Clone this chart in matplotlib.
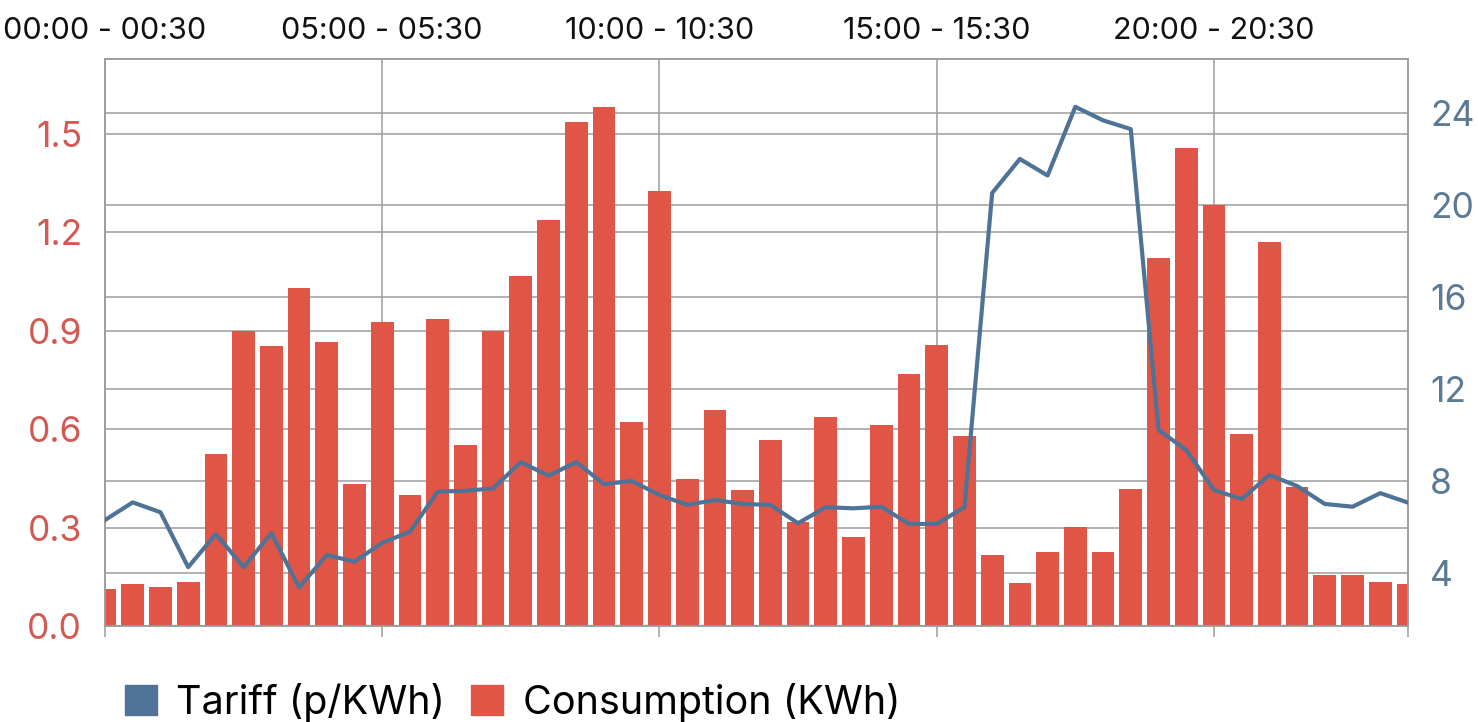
import matplotlib.pyplot as plt
from matplotlib.patches import Patch
from matplotlib.transforms import blended_transform_factory

# half-hour consumption (KWh), 48 slots
consumption = [0.112, 0.128, 0.120, 0.133, 0.524, 0.899, 0.852, 1.030, 0.867, 0.433,
               0.928, 0.400, 0.935, 0.552, 0.899, 1.068, 1.238, 1.537, 1.582, 0.622,
               1.327, 0.448, 0.659, 0.415, 0.567, 0.318, 0.638, 0.270, 0.613, 0.767,
               0.857, 0.580, 0.216, 0.130, 0.227, 0.303, 0.227, 0.418, 1.121, 1.456,
               1.284, 0.585, 1.169, 0.425, 0.155, 0.155, 0.133, 0.128]
# tariff (p/KWh) per slot
tariff = [6.29, 7.06, 6.63, 4.24, 5.68, 4.24, 5.72, 3.36, 4.77, 4.48,
          5.30, 5.78, 7.53, 7.56, 7.67, 8.81, 8.22, 8.81, 7.85, 7.99,
          7.38, 6.95, 7.16, 6.99, 6.95, 6.15, 6.85, 6.80, 6.87, 6.12,
          6.12, 6.85, 20.52, 22.00, 21.28, 24.27, 23.68, 23.30, 10.21, 9.34,
          7.60, 7.20, 8.25, 7.77, 6.99, 6.87, 7.46, 7.05]

tick_slots = [0, 10, 20, 30, 40]
tick_labels = ['00:00 - 00:30', '05:00 - 05:30', '10:00 - 10:30',
               '15:00 - 15:30', '20:00 - 20:30']
left_ticks = [0.0, 0.3, 0.6, 0.9, 1.2, 1.5]
right_ticks = [4, 8, 12, 16, 20, 24]

bar_color = '#e05545'
line_color = '#4f7396'
grid_color = '#9c9c9c'

plt.rcParams['font.family'] = ['Inter', 'DejaVu Sans']

fig = plt.figure(figsize=(14.78, 7.22), dpi=100)
ax = fig.add_axes([105 / 1478, 1 - 626 / 722, 1303 / 1478, 567 / 722])
ax2 = ax.twinx()

slots = list(range(len(consumption)))
ax.bar(slots, consumption, width=0.82, color=bar_color, zorder=2)
ax2.plot(slots, tariff, color=line_color, lw=3.0, solid_joinstyle='round', zorder=3)

ax.set_xlim(0, 47)
ax.set_ylim(0, 1.728)
ax2.set_ylim(1.68, 26.35)

# grid: left ticks, right ticks, time ticks
ax.set_axisbelow(True)
ax.grid(True, color=grid_color, lw=1.1)
tr = blended_transform_factory(ax.transAxes, ax2.transData)
ax.hlines(right_ticks, 0, 1, transform=tr, color=grid_color, lw=1.1, zorder=0.5)

ax.set_xticks(tick_slots)
ax.set_xticklabels(tick_labels)
ax.set_xticks([47], minor=True)
ax.tick_params(axis='x', which='both', bottom=True, top=False, labelbottom=False,
               labeltop=True, length=8, width=1.1, color=grid_color,
               labelsize=22, pad=2, labelcolor='#111111')

ax.set_yticks(left_ticks)
ax.set_yticklabels(['%.1f' % v for v in left_ticks])
ax.tick_params(axis='y', length=0, pad=16.5, labelsize=25.5, labelcolor='#d25a52')

ax2.set_yticks(right_ticks)
ax2.tick_params(axis='y', length=0, pad=15.8, labelsize=25.5, labelcolor='#5b7a95')

for a in (ax, ax2):
    for s in a.spines.values():
        s.set_color(grid_color)
        s.set_linewidth(1.1)

handles = [Patch(color=line_color), Patch(color=bar_color)]
fig.legend(handles, ['Tariff (p/KWh)', 'Consumption (KWh)'],
           loc='center left', bbox_to_anchor=(125 / 1478, 1 - 702 / 722),
           ncol=2, frameon=False, fontsize=28.5, borderpad=0, borderaxespad=0,
           handlelength=0.8, handleheight=0.8, handletextpad=0.5,
           columnspacing=0.65)

fig.savefig('out.png', dpi=100)
